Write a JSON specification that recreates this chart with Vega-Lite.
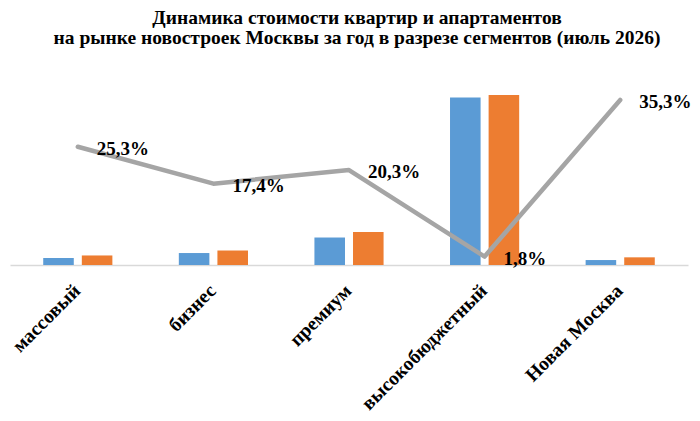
{
  "$schema": "https://vega.github.io/schema/vega-lite/v6.json",
  "width": 678,
  "height": 187,
  "autosize": {"type": "none"},
  "padding": {"left": 10, "top": 78, "right": 12, "bottom": 156},
  "title": {
    "text": ["Динамика стоимости квартир и апартаментов", "на рынке новостроек Москвы за год в разрезе сегментов (июль 2026)"],
    "font": "Liberation Serif",
    "fontSize": 19.5,
    "fontWeight": "bold",
    "color": "#000000",
    "lineHeight": 20,
    "anchor": "middle",
    "dx": 8,
    "offset": 30
  },
  "datasets": {
    "prices": [
      {"segment": "массовый", "period": "июль 2025", "price": 75},
      {"segment": "массовый", "period": "июль 2026", "price": 102},
      {"segment": "бизнес", "period": "июль 2025", "price": 128},
      {"segment": "бизнес", "period": "июль 2026", "price": 155},
      {"segment": "премиум", "period": "июль 2025", "price": 294},
      {"segment": "премиум", "period": "июль 2026", "price": 353},
      {"segment": "высокобюджетный", "period": "июль 2025", "price": 1791},
      {"segment": "высокобюджетный", "period": "июль 2026", "price": 1818},
      {"segment": "Новая Москва", "period": "июль 2025", "price": 53},
      {"segment": "Новая Москва", "period": "июль 2026", "price": 82}
    ],
    "changes": [
      {"segment": "массовый", "change": 25.3, "label": "25,3%"},
      {"segment": "бизнес", "change": 17.4, "label": "17,4%"},
      {"segment": "премиум", "change": 20.3, "label": "20,3%"},
      {"segment": "высокобюджетный", "change": 1.8, "label": "1,8%"},
      {"segment": "Новая Москва", "change": 35.3, "label": "35,3%"}
    ]
  },
  "encoding": {
    "x": {
      "field": "segment",
      "type": "nominal",
      "sort": ["массовый", "бизнес", "премиум", "высокобюджетный", "Новая Москва"],
      "scale": {"paddingInner": 0.49, "paddingOuter": 0.245},
      "axis": {
        "title": null,
        "labelAngle": -45,
        "labelFont": "Liberation Serif",
        "labelFontSize": 19.5,
        "labelFontWeight": "bold",
        "labelColor": "#000000",
        "labelPadding": 16,
        "labelOffset": -7,
        "ticks": false,
        "domainColor": "#d9d9d9",
        "domainWidth": 1.5,
        "grid": false
      }
    }
  },
  "layer": [
    {
      "data": {"name": "prices"},
      "mark": {"type": "bar"},
      "encoding": {
        "xOffset": {"field": "period", "type": "nominal", "scale": {"paddingInner": 0.208, "paddingOuter": 0}},
        "y": {"field": "price", "type": "quantitative", "scale": {"domain": [0, 2000]}, "axis": null},
        "color": {
          "field": "period",
          "type": "nominal",
          "scale": {"range": ["#5b9bd5", "#ed7d31"]},
          "legend": null
        }
      }
    },
    {
      "data": {"name": "changes"},
      "encoding": {
        "y": {"field": "change", "type": "quantitative", "scale": {"domain": [0, 40]}, "axis": null}
      },
      "layer": [
        {
          "mark": {"type": "line", "color": "#a5a5a5", "strokeWidth": 4.5, "strokeCap": "round", "strokeJoin": "round"}
        },
        {
          "mark": {
            "type": "text",
            "align": "left",
            "baseline": "middle",
            "dx": 19,
            "dy": 2,
            "font": "Liberation Serif",
            "fontSize": 19,
            "fontWeight": "bold",
            "color": "#000000"
          },
          "encoding": {"text": {"field": "label", "type": "nominal"}}
        }
      ]
    }
  ],
  "resolve": {"scale": {"y": "independent"}},
  "config": {"view": {"stroke": null}}
}
